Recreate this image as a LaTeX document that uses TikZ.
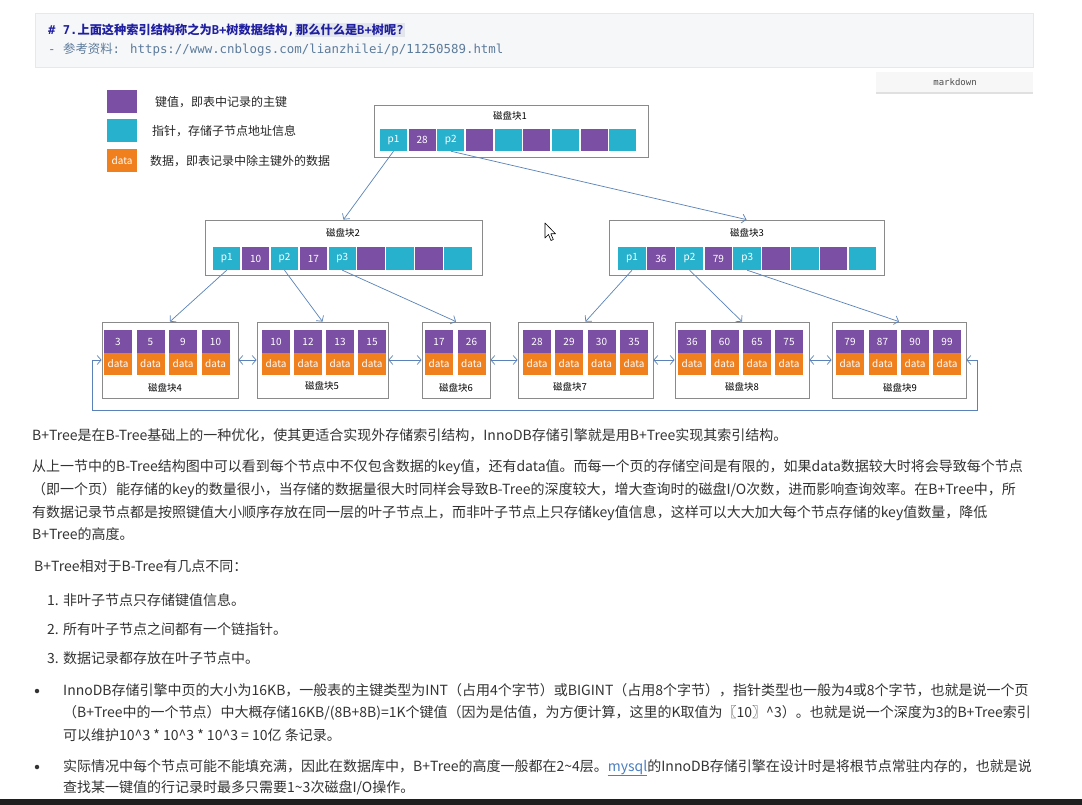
\documentclass[tikz,border=0pt]{standalone}
\usepackage{fontspec}
\setmainfont{Noto Sans CJK SC}
\newfontfamily\cjk{Noto Sans CJK SC}
\newfontfamily\monof{DejaVu Sans Mono}
\usetikzlibrary{arrows.meta}
\definecolor{kpurple}{HTML}{7B4FA3}
\definecolor{kcyan}{HTML}{27B1CC}
\definecolor{korange}{HTML}{F0801E}
\definecolor{arrowc}{HTML}{5A82B8}
\definecolor{boxc}{HTML}{8A8A8A}
\definecolor{txt}{HTML}{333333}
\definecolor{hdrbg}{HTML}{F6F7F9}
\definecolor{hdrline}{HTML}{E8E8EA}
\definecolor{titlec}{HTML}{1F1FA0}
\definecolor{refc}{HTML}{5C7B9B}
\definecolor{linkc}{HTML}{4A7FC1}
\definecolor{hlc}{HTML}{E3E6EC}
\tikzset{
  cellbase/.style={minimum width=27.5pt, minimum height=22pt, inner sep=0pt, text=white, font=\fontsize{10}{10}\selectfont},
  keyc/.style={cellbase, fill=kpurple},
  ptrc/.style={cellbase, fill=kcyan},
  datac/.style={cellbase, fill=korange},
  diskbox/.style={draw=boxc, line width=0.8pt, inner sep=0pt, fill=white},
  disklabel/.style={inner sep=0pt, font=\fontsize{9.5}{10}\selectfont, text=black},
  treearrow/.style={draw=arrowc, line width=0.7pt, -{Straight Barb[length=4pt,width=9pt]}},
  linkarrow/.style={draw=arrowc, line width=0.7pt, {Straight Barb[length=4pt,width=9pt]}-{Straight Barb[length=4pt,width=9pt]}},
  bodytext/.style={anchor=west, inner sep=0pt, text=txt, text height=11pt, text depth=3pt, font=\fontsize{14}{16}\selectfont},
  legtext/.style={anchor=west, inner sep=0pt, text=black!85, font=\fontsize{12}{14}\selectfont},
  bulletdot/.style={circle, fill=txt, inner sep=0pt, minimum size=4.5pt}
}
\begin{document}
\begin{tikzpicture}[x=1pt,y=-1pt]
\useasboundingbox (0,0) rectangle (1082,805);
\fill[white] (0,0) rectangle (1082,805);

% header
\draw[fill=hdrbg, draw=hdrline] (35,13) rectangle (1033,67);
\node[anchor=west, inner sep=0pt, text=titlec, font=\monof\bfseries\fontsize{12.2}{13}\selectfont] (t1) at (48,30)
  {\# 7.{\cjk\bfseries 上面这种索引结构称之为}B+{\cjk\bfseries 树数据结构},};
\node[anchor=west, inner sep=1pt, fill=hlc, text=titlec, font=\monof\bfseries\fontsize{12.2}{13}\selectfont] (t2) at (t1.east)
  {{\cjk\bfseries 那么什么是}B+{\cjk\bfseries 树呢}?};
\node[anchor=west, inner sep=0pt, text=refc, font=\monof\fontsize{12.4}{13}\selectfont] (t3) at (48,50)
  {- {\cjk 参考资料}: https://www.cnblogs.com/lianzhilei/p/11250589.html};
\fill[black!12] (876,73) rectangle (1033,94);
\fill[black!3] (876,72) rectangle (1033,92.5);
\node[inner sep=0pt, text=black!70, font=\monof\fontsize{9}{9}\selectfont] (md) at (955,82) {markdown};

% legend
\node[keyc, minimum width=30pt, minimum height=23pt] (lg1) at (122,101.5) {};
\node[ptrc, minimum width=30pt, minimum height=23pt] (lg2) at (122,131) {};
\node[datac, minimum width=30pt, minimum height=23pt] (lg3) at (122,161) {data};
\node[legtext] (lt1) at (155,102) {键值，即表中记录的主键};
\node[legtext] (lt2) at (152,131) {指针，存储子节点地址信息};
\node[legtext] (lt3) at (150,161) {数据，即表记录中除主键外的数据};

% disk boxes
\node[diskbox, minimum width=274pt, minimum height=52pt] (d1) at (511,131) {};
\node[diskbox, minimum width=277pt, minimum height=55pt] (d2) at (343.5,247.5) {};
\node[diskbox, minimum width=275pt, minimum height=55pt] (d3) at (746.5,247.5) {};
\node[diskbox, minimum width=136pt, minimum height=76pt] (l4) at (170,360) {};
\node[diskbox, minimum width=131pt, minimum height=76pt] (l5) at (322.5,360) {};
\node[diskbox, minimum width=68pt, minimum height=76pt] (l6) at (456,360) {};
\node[diskbox, minimum width=135pt, minimum height=76pt] (l7) at (585.5,360) {};
\node[diskbox, minimum width=134pt, minimum height=76pt] (l8) at (742,360) {};
\node[diskbox, minimum width=134pt, minimum height=76pt] (l9) at (899,360) {};

\node[disklabel] (n1) at (510,116) {磁盘块1};
\node[disklabel] (n2) at (343,233) {磁盘块2};
\node[disklabel] (n3) at (747,233) {磁盘块3};
\node[disklabel] (n4) at (165,388) {磁盘块4};
\node[disklabel] (n5) at (322,386) {磁盘块5};
\node[disklabel] (n6) at (456,388) {磁盘块6};
\node[disklabel] (n7) at (570,387) {磁盘块7};
\node[disklabel] (n8) at (742,387) {磁盘块8};
\node[disklabel] (n9) at (900,388) {磁盘块9};

% inner node cells
\foreach \i/\t/\s in {0/p1/ptrc,1/28/keyc,2/p2/ptrc,3//keyc,4//ptrc,5//keyc,6//ptrc,7//keyc,8//ptrc}
  \node[\s, minimum width=27pt] (r\i) at (393.5+\i*28.67,140) {\t};
\foreach \i/\t/\s in {0/p1/ptrc,1/10/keyc,2/p2/ptrc,3/17/keyc,4/p3/ptrc,5//keyc,6//ptrc,7//keyc,8//ptrc}
  \node[\s, minimum height=23pt] (a\i) at (226.7+\i*28.9,258.5) {\t};
\foreach \i/\t/\s in {0/p1/ptrc,1/36/keyc,2/p2/ptrc,3/79/keyc,4/p3/ptrc,5//keyc,6//ptrc,7//keyc,8//ptrc}
  \node[\s, minimum height=23pt] (b\i) at (632+\i*28.8,258.5) {\t};

% leaf cells
\foreach \x/\k/\n in {104/3/a,136.5/5/b,169/9/c,201.5/10/d,
                      262/10/e,294/12/f,326/13/g,358/15/h,
                      425/17/i,457.5/26/j,
                      523/28/k,555/29/l,587.5/30/m,620/35/n,
                      678/36/o,710.5/60/p,743/65/q,775/75/r,
                      836/79/s,868.5/87/t,901/90/u,933/99/v}{
  \node[keyc, minimum width=28pt, minimum height=23pt] (k\n) at (\x+14,341.5) {\k};
  \node[datac, minimum width=28pt, minimum height=22pt] (v\n) at (\x+14,364) {data};
}

% tree arrows
\draw[treearrow] (r0.south) -- (d2.north);
\draw[treearrow] (r2.south) -- (d3.north);
\draw[treearrow] (a0.south) -- (l4.north);
\draw[treearrow] (a2.south) -- (l5.north);
\draw[treearrow] (a4.south) -- (l6.north);
\draw[treearrow] (b0.south) -- (l7.north);
\draw[treearrow] (b2.south) -- (l8.north);
\draw[treearrow] (b4.south) -- (l9.north);

% leaf links
\draw[linkarrow] (l4.east) -- (l5.west);
\draw[linkarrow] (l5.east) -- (l6.west);
\draw[linkarrow] (l6.east) -- (l7.west);
\draw[linkarrow] (l7.east) -- (l8.west);
\draw[linkarrow] (l8.east) -- (l9.west);
\coordinate (loopL) at (92,410);
\coordinate (loopR) at (977,410);
\draw[linkarrow] (l4.west) -- (l4.west -| loopL) -- (loopL) -- (loopR) -- (loopR |- l9.east) -- (l9.east);

% mouse cursor
\draw[fill=white, draw=black, line width=0.6pt, line join=round]
  (545,223) -- (545,238) -- (548.5,234.5) -- (551,240.5) -- (553.3,239.5) -- (550.8,233.8) -- (555.5,233.8) -- cycle;

% body text
\node[bodytext] (p1) at (32,436) {B+Tree是在B-Tree基础上的一种优化，使其更适合实现外存储索引结构，InnoDB存储引擎就是用B+Tree实现其索引结构。};
\node[bodytext] (p2a) at (32,467) {从上一节中的B-Tree结构图中可以看到每个节点中不仅包含数据的key值，还有data值。而每一个页的存储空间是有限的，如果data数据较大时将会导致每个节点};
\node[bodytext] (p2b) at (32,490) {（即一个页）能存储的key的数量很小，当存储的数据量很大时同样会导致B-Tree的深度较大，增大查询时的磁盘I/O次数，进而影响查询效率。在B+Tree中，所};
\node[bodytext] (p2c) at (32,513) {有数据记录节点都是按照键值大小顺序存放在同一层的叶子节点上，而非叶子节点上只存储key值信息，这样可以大大加大每个节点存储的key值数量，降低};
\node[bodytext] (p2d) at (32,535) {B+Tree的高度。};
\node[bodytext] (p3) at (34,567) {B+Tree相对于B-Tree有几点不同：};
\node[bodytext] (li1) at (47,601) {1. 非叶子节点只存储键值信息。};
\node[bodytext] (li2) at (47,630) {2. 所有叶子节点之间都有一个链指针。};
\node[bodytext] (li3) at (47,659) {3. 数据记录都存放在叶子节点中。};

\node[bulletdot] (bd1) at (37,691) {};
\node[bulletdot] (bd2) at (37,767) {};
\node[bodytext] (b1a) at (63,691) {InnoDB存储引擎中页的大小为16KB，一般表的主键类型为INT（占用4个字节）或BIGINT（占用8个字节），指针类型也一般为4或8个字节，也就是说一个页};
\node[bodytext] (b1b) at (63,713) {（B+Tree中的一个节点）中大概存储16KB/(8B+8B)=1K个键值（因为是估值，为方便计算，这里的K取值为〖10〗\textasciicircum3）。也就是说一个深度为3的B+Tree索引};
\node[bodytext] (b1c) at (63,736) {可以维护10\textasciicircum3 * 10\textasciicircum3 * 10\textasciicircum3 = 10亿 条记录。};
\node[bodytext] (b2a) at (63,767) {实际情况中每个节点可能不能填充满，因此在数据库中，B+Tree的高度一般都在2\textasciitilde4层。\textcolor{linkc}{\underline{mysql}}的InnoDB存储引擎在设计时是将根节点常驻内存的，也就是说};
\node[bodytext] (b2b) at (63,788) {查找某一键值的行记录时最多只需要1\textasciitilde3次磁盘I/O操作。};

% bottom bar
\fill[black!88] (0,799) rectangle (1082,805);
\end{tikzpicture}
\end{document}
